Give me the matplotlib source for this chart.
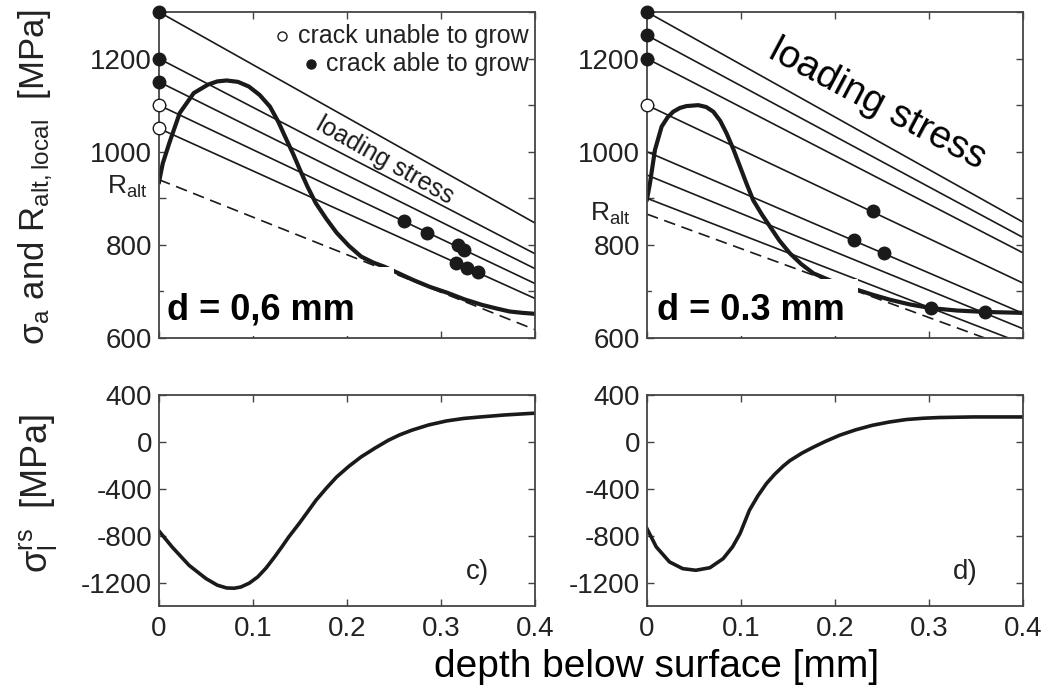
import matplotlib
matplotlib.use('Agg')
import matplotlib.pyplot as plt
from matplotlib.patches import Rectangle

plt.rcParams['font.family'] = ['Liberation Sans', 'DejaVu Sans']
plt.rcParams['mathtext.fontset'] = 'custom'
plt.rcParams['mathtext.rm'] = 'Liberation Sans'
plt.rcParams['mathtext.it'] = 'Liberation Sans:italic'
plt.rcParams['mathtext.bf'] = 'Liberation Sans:bold'
plt.rcParams['axes.unicode_minus'] = False

# loading stress lines: value at the surface and at 0.4 mm depth
line_depth = [0.0, 0.4]
load_06_surface = [1300, 1200, 1150, 1100, 1050]
load_06_end = [847, 781, 749, 717, 685]
load_06_mark = ['able', 'able', 'able', 'unable', 'unable']
load_03_surface = [1300, 1250, 1200, 1100, 1000, 950, 900]
load_03_end = [849, 816, 783, 718, 653, 620, 588]
load_03_mark = ['able', 'able', 'able', 'unable', None, None, None]

# endurance limit R_alt (dashed)
r_alt_06 = [940, 618]
r_alt_03 = [866, 570]

# local endurance limit R_alt,local
depth_ral_06 = [0.0, 0.004, 0.011, 0.022, 0.037, 0.052, 0.062, 0.072, 0.084, 0.0956,
                0.107, 0.118, 0.127, 0.1356, 0.143, 0.150, 0.158, 0.1667, 0.178, 0.189,
                0.202, 0.215, 0.228, 0.24, 0.255, 0.27, 0.288, 0.307, 0.325, 0.344,
                0.36, 0.373, 0.387, 0.4]
ral_06 = [935, 975, 1019, 1083, 1126, 1144, 1151, 1153, 1150, 1140,
          1122, 1097, 1064, 1026, 994, 961, 925, 890, 856, 826,
          798, 775, 762, 753, 739, 725, 710, 697, 683, 671,
          663, 657, 654, 652]
depth_ral_03 = [0.0, 0.003, 0.0085, 0.0156, 0.022, 0.028, 0.035, 0.042, 0.0546, 0.063,
                0.0706, 0.078, 0.0848, 0.092, 0.099, 0.106, 0.113, 0.122, 0.131, 0.141,
                0.152, 0.164, 0.177, 0.198, 0.223, 0.24, 0.259, 0.28, 0.303, 0.33,
                0.36, 0.38, 0.4]
ral_03 = [898, 930, 1004, 1054, 1074, 1086, 1094, 1098, 1100, 1096,
          1086, 1066, 1039, 1005, 968, 931, 896, 866, 839, 809,
          782, 759, 739, 721, 704, 693, 682, 672, 664, 659,
          656, 655, 654]

# cracks able to grow along the loading lines
grow_06_depth = [0.261, 0.285, 0.318, 0.325, 0.316, 0.328, 0.339]
grow_06_stress = [851, 826, 799, 789, 761, 751, 742]
grow_03_depth = [0.240, 0.2205, 0.252, 0.302, 0.360]
grow_03_stress = [872, 810, 783, 665, 655]

# residual stress profiles
depth_rs_06 = [0.0, 0.0139, 0.032, 0.05, 0.062, 0.072, 0.08, 0.087, 0.096, 0.105,
               0.114, 0.123, 0.131, 0.138, 0.149, 0.158, 0.167, 0.178, 0.189, 0.202,
               0.215, 0.23, 0.244, 0.256, 0.269, 0.287, 0.306, 0.324, 0.342, 0.368,
               0.393, 0.4]
rs_06 = [-760, -896, -1053, -1166, -1222, -1246, -1248, -1238, -1205, -1152,
         -1075, -981, -892, -811, -697, -598, -498, -395, -299, -208,
         -128, -52, 14, 60, 100, 145, 179, 200, 213, 230,
         242, 245]
depth_rs_03 = [0.0, 0.0099, 0.024, 0.038, 0.052, 0.067, 0.081, 0.091, 0.099, 0.109,
               0.118, 0.127, 0.136, 0.145, 0.152, 0.165, 0.177, 0.19, 0.205, 0.222,
               0.24, 0.258, 0.276, 0.294, 0.311, 0.347, 0.4]
rs_03 = [-740, -896, -1024, -1081, -1095, -1073, -996, -896, -782, -583,
         -460, -356, -275, -206, -160, -95, -45, 5, 57, 103,
         142, 170, 191, 202, 208, 213, 213]

x_ticks = [0, 0.1, 0.2, 0.3, 0.4]
x_labels = ['0', '0.1', '0.2', '0.3', '0.4']
top_ticks = [600, 700, 800, 900, 1000, 1100, 1200, 1300]
top_labels = ['600', '', '800', '', '1000', '', '1200', '']
bottom_ticks = [-1200, -800, -400, 0, 400]
bottom_labels = ['-1200', '-800', '-400', '0', '400']

ink = '#1a1a1a'
tick_size = 20


def style_axes(ax):
    ax.set_xlim(0, 0.4)
    ax.tick_params(direction='in', top=True, right=True, length=5, width=1,
                   color='#444444', labelsize=tick_size, labelcolor='#222222')
    ax.tick_params(axis='x', pad=7)
    ax.tick_params(axis='y', pad=5)
    for s in ax.spines.values():
        s.set_color('#444444')
        s.set_linewidth(1.3)


def top_panel(ax, surface, end, marks, r_alt, depth_ral, ral, gdepth, gstress, box):
    style_axes(ax)
    ax.set_ylim(600, 1300)
    ax.set_yticks(top_ticks, labels=top_labels)
    ax.set_xticks(x_ticks, labels=[''] * len(x_ticks))
    for s0, s1, m in zip(surface, end, marks):
        ax.plot(line_depth, [s0, s1], color=ink, lw=1.2, zorder=2.1)
        if m == 'able':
            ax.plot([0], [s0], 'o', ms=9, mfc=ink, mec=ink, clip_on=False, zorder=2.7)
        elif m == 'unable':
            ax.plot([0], [s0], 'o', ms=9, mfc='white', mec=ink, mew=1.0,
                    clip_on=False, zorder=2.7)
    ax.plot(line_depth, r_alt, color=ink, lw=1.2, dashes=(7, 4), zorder=2.1)
    ax.plot(depth_ral, ral, color=ink, lw=3.0, zorder=2.3, solid_joinstyle='round')
    ax.plot(gdepth, gstress, 'o', ms=9, mfc=ink, mec=ink, zorder=2.6)
    # white backing behind the bold panel caption
    ax.add_patch(Rectangle((box[0], box[1]), box[2] - box[0], box[3] - box[1],
                           facecolor='white', edgecolor='none', zorder=2.4))


def bottom_panel(ax, depth, rs, tag):
    style_axes(ax)
    ax.set_ylim(-1400, 400)
    ax.set_yticks(bottom_ticks, labels=bottom_labels)
    ax.set_xticks(x_ticks, labels=x_labels)
    ax.plot(depth, rs, color=ink, lw=2.6, solid_joinstyle='round')
    ax.text(0.339, -1110, tag, fontsize=20, color='#222222', ha='center', va='center')


fig = plt.figure(figsize=(10.42, 6.9), dpi=100)
ax_a = fig.add_axes([0.1526, 0.5101, 0.3608, 0.4725])
ax_b = fig.add_axes([0.6209, 0.5101, 0.3608, 0.4725])
ax_c = fig.add_axes([0.1526, 0.1217, 0.3608, 0.3058])
ax_d = fig.add_axes([0.6209, 0.1217, 0.3608, 0.3058])

top_panel(ax_a, load_06_surface, load_06_end, load_06_mark, r_alt_06,
          depth_ral_06, ral_06, grow_06_depth, grow_06_stress, (0.005, 604, 0.25, 752))
top_panel(ax_b, load_03_surface, load_03_end, load_03_mark, r_alt_03,
          depth_ral_03, ral_03, grow_03_depth, grow_03_stress, (0.005, 604, 0.224, 727))

# annotations, panel with d = 0.6 mm
ax_a.text(0.24, 981, 'loading stress', fontsize=18, rotation=-29.5,
          ha='center', va='center', color=ink)
ax_a.text(-0.012, 925, r'R$_{\rm alt}$', fontsize=19, ha='right', va='center', color='#222222')
ax_a.text(0.008, 660, 'd = 0,6 mm', fontsize=26, fontweight='bold', ha='left',
          va='center', color='black', zorder=5)
ax_a.plot([0.131], [1249], 'o', ms=6.5, mfc='white', mec=ink, mew=1.0)
ax_a.plot([0.162], [1189], 'o', ms=6.5, mfc=ink, mec=ink)
ax_a.text(0.393, 1249, 'crack unable to grow', fontsize=18, ha='right', va='center', color='#222222')
ax_a.text(0.393, 1189, 'crack able to grow', fontsize=18, ha='right', va='center', color='#222222')

# annotations, panel with d = 0.3 mm
ax_b.text(0.245, 1102, 'loading stress', fontsize=28, rotation=-28,
          ha='center', va='center', color='black')
ax_b.text(-0.017, 866, r'R$_{\rm alt}$', fontsize=19, ha='right', va='center', color='#222222')
ax_b.text(0.011, 660, 'd = 0.3 mm', fontsize=26, fontweight='bold', ha='left',
          va='center', color='black', zorder=5)

bottom_panel(ax_c, depth_rs_06, rs_06, 'c)')
bottom_panel(ax_d, depth_rs_03, rs_03, 'd)')

fig.text(0.034, 0.743, r'σ$_{\rm a}$ and R$_{\rm alt,local}$  [MPa]', rotation=90,
         fontsize=25, ha='center', va='center', color='#222222')
fig.text(0.036, 0.285, r'σ$_{\rm l}^{\rm rs}$  [MPa]', rotation=90,
         fontsize=26, ha='center', va='center', color='#222222')
fig.text(0.6305, 0.034, 'depth below surface [mm]', fontsize=28,
         ha='center', va='center', color='black')

fig.savefig('out.png', dpi=100)
